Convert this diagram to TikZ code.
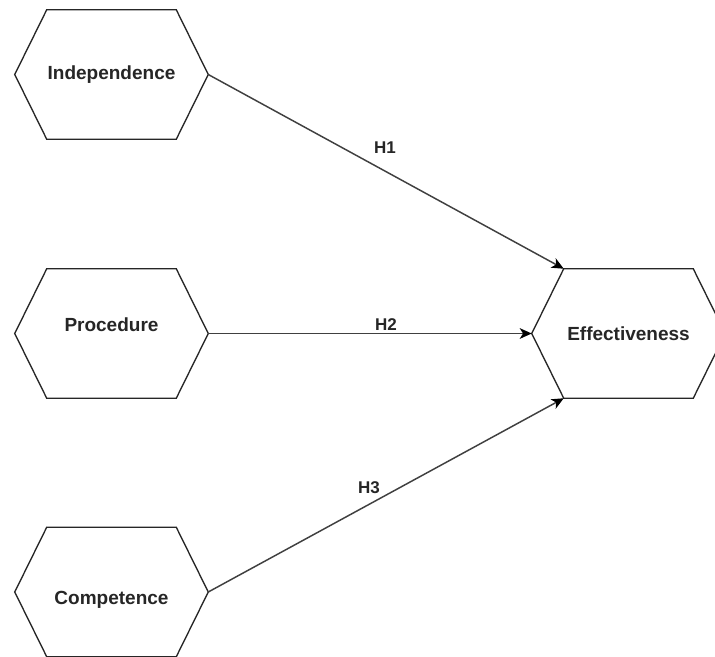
\documentclass[tikz,border=0pt]{standalone}
\usepackage{fontspec}
\setmainfont{Liberation Sans}
\usetikzlibrary{arrows.meta}
\tikzset{
  hexbox/.style={minimum width=144.75pt, minimum height=96.75pt, inner sep=0pt, draw=none},
  hexline/.style={draw=black!85, line width=1pt, line join=miter},
  hextext/.style={inner sep=0pt, text=black!85, font=\bfseries\fontsize{14.25pt}{16pt}\selectfont},
  edgelabel/.style={inner sep=0pt, text=black!85, font=\bfseries\fontsize{12.75pt}{14pt}\selectfont},
  conn/.style={draw=black!75, line width=1.1pt, -{Stealth[length=9pt,width=8pt,inset=2.5pt,color=black]}}
}
\newcommand{\hexdraw}[1]{%
  \draw[hexline] (#1.west) -- ([xshift=24pt]#1.north west) -- ([xshift=-24pt]#1.north east)
    -- (#1.east) -- ([xshift=-24pt]#1.south east) -- ([xshift=24pt]#1.south west) -- cycle;}
\begin{document}
\begin{tikzpicture}[x=0.75pt,y=-0.75pt]
\useasboundingbox (0,0) rectangle (715,657);
\fill[white] (0,0) rectangle (715,657);
\node[hexbox] (ind) at (111.5,74.5) {};
\node[hexbox] (pro) at (111.5,333.5) {};
\node[hexbox] (com) at (111.5,592) {};
\node[hexbox] (eff) at (628.5,333.5) {};
\hexdraw{ind}
\hexdraw{pro}
\hexdraw{com}
\hexdraw{eff}
\node[hextext] (indt) at (111.5,74.5) {Independence};
\node[hextext] (prot) at (111.5,325) {Procedure};
\node[hextext] (comt) at (111.5,600) {Competence};
\node[hextext] (efft) at (628.5,333.5) {Effectiveness};
\draw[conn] (ind.east) -- ([xshift=24pt]eff.north west);
\draw[conn] (pro.east) -- (eff.west);
\draw[conn] (com.east) -- ([xshift=24pt]eff.south west);
\node[edgelabel] (h1) at (385,148) {H1};
\node[edgelabel] (h2) at (386,325) {H2};
\node[edgelabel] (h3) at (369,488) {H3};
\end{tikzpicture}
\end{document}
